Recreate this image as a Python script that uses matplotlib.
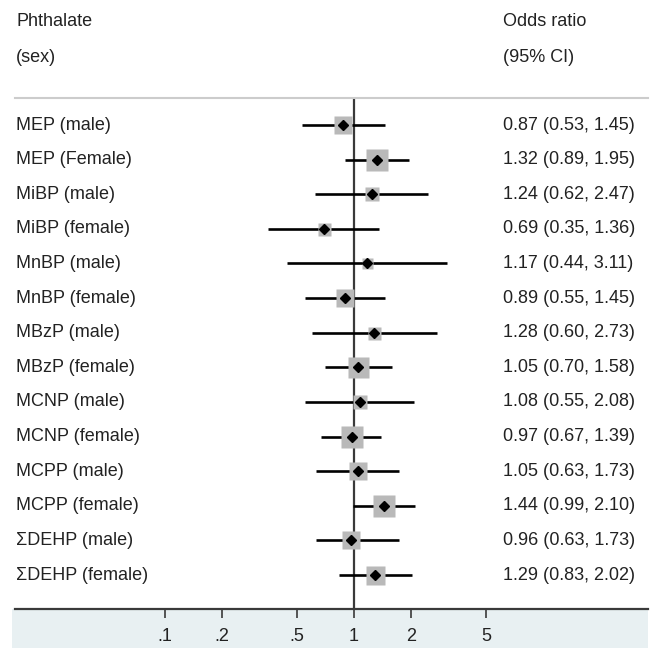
import matplotlib
matplotlib.use("Agg")
import matplotlib.pyplot as plt
import matplotlib.transforms as mtransforms
from matplotlib.patches import Rectangle
import numpy as np

plt.rcParams['font.family'] = ['Liberation Sans', 'DejaVu Sans']

# forest plot data: odds ratio and 95% CI per phthalate / sex
labels = ['MEP (male)', 'MEP (Female)', 'MiBP (male)', 'MiBP (female)',
          'MnBP (male)', 'MnBP (female)', 'MBzP (male)', 'MBzP (female)',
          'MCNP (male)', 'MCNP (female)', 'MCPP (male)', 'MCPP (female)',
          '\u03a3DEHP (male)', '\u03a3DEHP (female)']
odds = [0.87, 1.32, 1.24, 0.69, 1.17, 0.89, 1.28, 1.05, 1.08, 0.97, 1.05, 1.44, 0.96, 1.29]
ci_low = [0.53, 0.89, 0.62, 0.35, 0.44, 0.55, 0.60, 0.70, 0.55, 0.67, 0.63, 0.99, 0.63, 0.83]
ci_high = [1.45, 1.95, 2.47, 1.36, 3.11, 1.45, 2.73, 1.58, 2.08, 1.39, 1.73, 2.10, 1.73, 2.02]
# relative weight of each estimate (box size, in pixels)
weights = [18, 22, 14, 13, 11, 18, 13, 21, 14, 23, 18, 23, 18, 19]

tick_vals = [0.1, 0.2, 0.5, 1, 2, 5]
tick_labels = ['.1', '.2', '.5', '1', '2', '5']

W, H = 652, 648
fig = plt.figure(figsize=(W / 100, H / 100), dpi=100)

# shaded strip behind the tick labels
left_px, right_px, top_px, bottom_px = 15, 648, 98, 609
fig.patches.append(Rectangle((12 / W, 0), (648 - 12) / W, (H - bottom_px) / H,
                             transform=fig.transFigure, facecolor='#e8f0f2',
                             edgecolor='none', zorder=0))

# plot area between the top rule and the bottom axis
ax = fig.add_axes([left_px / W, (H - bottom_px) / H,
                   (right_px - left_px) / W, (bottom_px - top_px) / H])
ax.set_facecolor('none')
ax.set_zorder(2)

y = np.arange(len(labels))
ax.set_xscale('log')
ax.set_xlim(0.01607, 35.9)
ax.set_ylim(13.98, -0.78)

ax.axvline(1, color='#3a3a3a', lw=1.6, zorder=1)
ax.hlines(y, ci_low, ci_high, color='black', lw=1.9, zorder=2)
for yi, o, w in zip(y, odds, weights):
    ax.plot(o, yi, marker='s', ms=w * 0.72, color='#b9b9b9', mec='none', zorder=3)
ax.plot(odds, y, 'D', ms=4.8, color='black', zorder=4, ls='none')

for side in ['left', 'right']:
    ax.spines[side].set_visible(False)
ax.spines['top'].set_color('#cccccc')
ax.spines['top'].set_linewidth(1.5)
ax.spines['bottom'].set_color('#3a3a3a')
ax.spines['bottom'].set_linewidth(1.6)
ax.set_yticks([])
ax.set_xticks(tick_vals)
ax.set_xticklabels(tick_labels)
ax.minorticks_off()
ax.tick_params(axis='x', length=6.5, width=1.2, color='#3a3a3a',
               labelsize=13, pad=7, labelcolor='#222222')

# row labels and estimates
trans = mtransforms.blended_transform_factory(fig.transFigure, ax.transData)
for yi, lab, o, lo, hi in zip(y, labels, odds, ci_low, ci_high):
    ax.text(16 / W, yi, lab, transform=trans, va='center', ha='left',
            fontsize=13, color='#222222')
    ax.text(503 / W, yi, '%.2f (%.2f, %.2f)' % (o, lo, hi), transform=trans,
            va='center', ha='left', fontsize=13, color='#222222')

# column headers
fig.text(16 / W, 1 - 22 / H, 'Phthalate', va='center', fontsize=13, color='#222222')
fig.text(16 / W, 1 - 58 / H, '(sex)', va='center', fontsize=13, color='#222222')
fig.text(503 / W, 1 - 22 / H, 'Odds ratio', va='center', fontsize=13, color='#222222')
fig.text(503 / W, 1 - 58 / H, '(95% CI)', va='center', fontsize=13, color='#222222')

fig.savefig('out.png', dpi=100, facecolor='white')
